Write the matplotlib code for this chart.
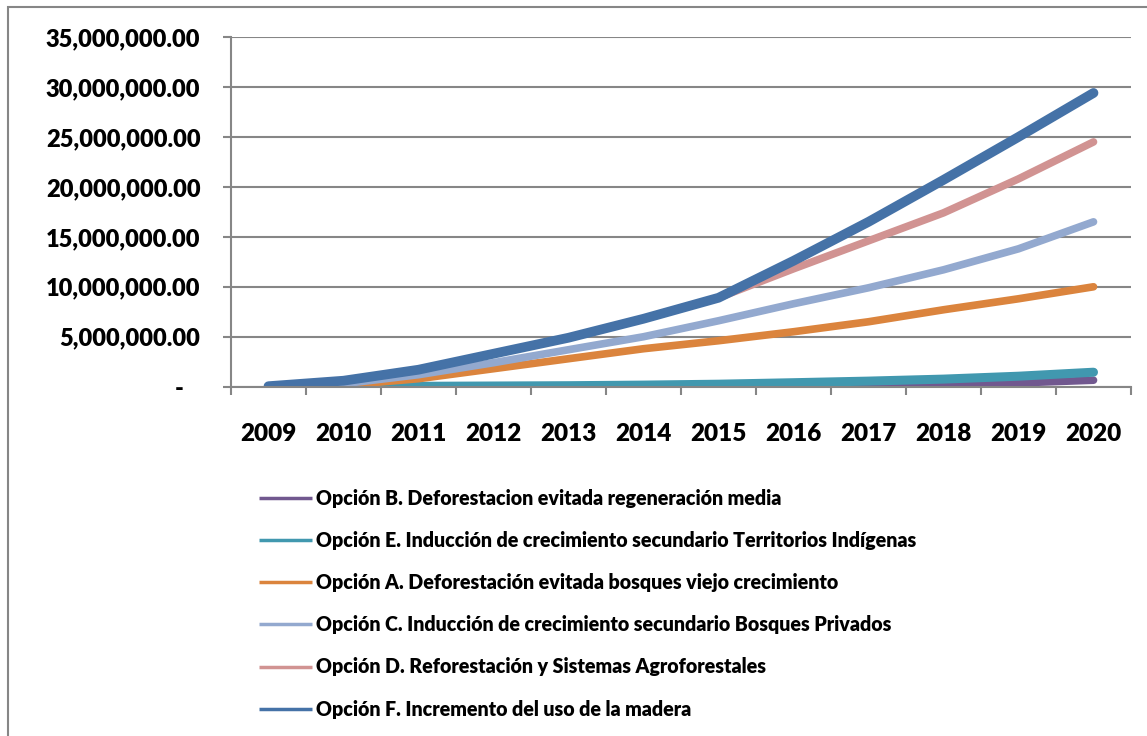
import matplotlib
matplotlib.use("Agg")
import matplotlib.pyplot as plt
from matplotlib.ticker import FixedLocator, FuncFormatter, NullFormatter
from matplotlib.patches import Rectangle

plt.rcParams['font.family'] = ['Lato', 'DejaVu Sans']

years = ['2009', '2010', '2011', '2012', '2013', '2014', '2015', '2016', '2017', '2018', '2019', '2020']

# valores
opcion_b = [0, 0, 0, 0, 0, 0, 0, 0.02e6, 0.08e6, 0.2e6, 0.38e6, 0.65e6]
opcion_e = [0, 0.02e6, 0.04e6, 0.07e6, 0.1e6, 0.16e6, 0.25e6, 0.4e6, 0.56e6, 0.76e6, 1.05e6, 1.45e6]
opcion_a = [0, 0.15e6, 0.8e6, 1.8e6, 2.8e6, 3.8e6, 4.6e6, 5.5e6, 6.5e6, 7.7e6, 8.8e6, 10.0e6]
opcion_c = [0, 0.3e6, 1.2e6, 2.4e6, 3.7e6, 5.0e6, 6.6e6, 8.3e6, 9.9e6, 11.7e6, 13.8e6, 16.5e6]
opcion_d = [0.05e6, 0.6e6, 1.7e6, 3.3e6, 4.9e6, 6.8e6, 8.9e6, 11.8e6, 14.6e6, 17.4e6, 20.8e6, 24.5e6]
opcion_f = [0.05e6, 0.6e6, 1.7e6, 3.3e6, 4.9e6, 6.8e6, 8.9e6, 12.6e6, 16.5e6, 20.7e6, 25.0e6, 29.4e6]

series = [
    ("Opción B. Deforestacion evitada regeneración media", opcion_b, '#71588F', 5.5),
    ("Opción E. Inducción de crecimiento secundario Territorios Indígenas", opcion_e, '#4198AF', 6.5),
    ("Opción A. Deforestación evitada bosques viejo crecimiento", opcion_a, '#DB843D', 5.5),
    ("Opción C. Inducción de crecimiento secundario Bosques Privados", opcion_c, '#93A9CF', 5.5),
    ("Opción D. Reforestación y Sistemas Agroforestales", opcion_d, '#D19392', 5.5),
    ("Opción F. Incremento del uso de la madera", opcion_f, '#4572A7', 7),
]

W, H = 1147, 736
fig = plt.figure(figsize=(W / 100, H / 100), dpi=100)
ax = fig.add_axes([231 / W, 1 - 386.7 / H, 900 / W, (386.7 - 37) / H])

# marco exterior
fig.patches.append(Rectangle((8 / W, -0.1), 1.2, 1 - 7 / H + 0.1, transform=fig.transFigure,
                             fill=False, edgecolor='#868686', linewidth=1.5))

x = list(range(len(years)))
for nombre, vals, color, lw in series:
    ax.plot(x, vals, color=color, linewidth=lw, solid_capstyle='round',
            solid_joinstyle='round', label=nombre)

ax.set_xlim(-0.5, len(years) - 0.5)
ax.set_ylim(0, 35e6)
ax.set_yticks([i * 5e6 for i in range(8)])
ax.yaxis.set_major_formatter(FuncFormatter(lambda v, p: '-   ' if v == 0 else f'{v:,.2f}'))
ax.grid(axis='y', color='#868686', linewidth=1.5)
ax.set_axisbelow(True)

ax.xaxis.set_major_locator(FixedLocator([i - 0.5 for i in range(len(years) + 1)]))
ax.xaxis.set_major_formatter(NullFormatter())
ax.xaxis.set_minor_locator(FixedLocator(x))
ax.set_xticklabels(years, minor=True)
ax.tick_params(axis='x', which='minor', length=0, pad=26, labelsize=17.5)
ax.tick_params(axis='x', which='major', length=6, width=1.5, color='#868686')
ax.tick_params(axis='y', length=6, width=1.5, color='#868686', pad=16, labelsize=17)
for lab in ax.get_xticklabels(minor=True) + ax.get_yticklabels():
    lab.set_fontweight('heavy')

for s in ['top', 'right']:
    ax.spines[s].set_visible(False)
for s in ['left', 'bottom']:
    ax.spines[s].set_color('#868686')
    ax.spines[s].set_linewidth(1.5)

leg = fig.legend(loc='upper left', bbox_to_anchor=(259 / W, 1 - 489 / H), frameon=False,
                 prop={'weight': 'heavy', 'size': 14.1}, handlelength=2.7, handletextpad=0.2,
                 labelspacing=1.18, borderpad=0, borderaxespad=0)
for line in leg.get_lines():
    line.set_linewidth(2.5)
    line.set_solid_capstyle('butt')

fig.savefig('out.png', dpi=100)
